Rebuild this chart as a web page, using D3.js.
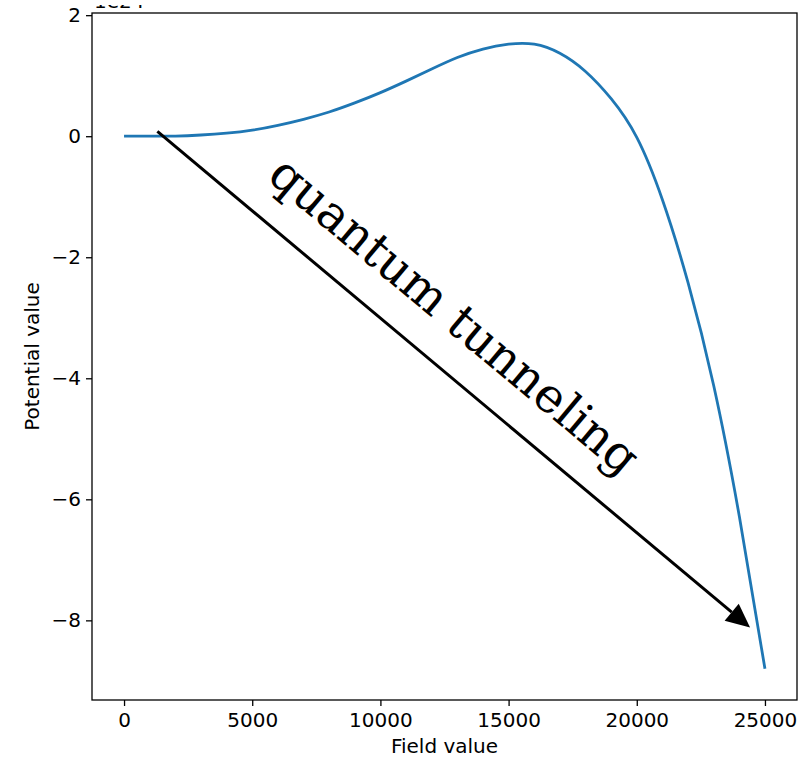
<!DOCTYPE html>
<html>
<head>
<meta charset="utf-8">
<script src="https://cdn.jsdelivr.net/npm/d3@7"></script>
<style>
  body { margin: 0; background: #fff; }
  svg text { font-family: "DejaVu Sans", sans-serif; fill: #000; }
</style>
</head>
<body>
<div id="chart"></div>
<script>
// field values and potential (in units of 1e24)
const fieldValues = [0, 1000, 2000, 3000, 4000, 5000, 6000, 7000, 8000, 9000, 10000,
  11000, 12000, 13000, 14000, 15000, 16000, 17000, 18000, 19000, 20000,
  21000, 22000, 23000, 24000, 25000];
const potentialValues = [0, 0, 0.003, 0.02, 0.05, 0.1, 0.18, 0.28, 0.4, 0.55, 0.72,
  0.91, 1.11, 1.3, 1.44, 1.52, 1.52, 1.37, 1.07, 0.62, -0.02,
  -1.05, -2.42, -4.12, -6.28, -8.8];
const xTicks = [0, 5000, 10000, 15000, 20000, 25000];
const yTicks = [-8, -6, -4, -2, 0, 2];
const arrowFrom = [1300, 0.08];
const arrowTo = [24420, -8.12];
const annotation = "quantum tunneling";

const W = 803, H = 759;
const m = {left: 92, right: 6, top: 13, bottom: 59};

const svg = d3.select("#chart").append("svg")
  .attr("width", W).attr("height", H);

const xMin = d3.min(fieldValues), xMax = d3.max(fieldValues);
const yMin = d3.min(potentialValues), yMax = d3.max(potentialValues);
const xPad = (xMax - xMin) * 0.05, yPad = (yMax - yMin) * 0.05;

const x = d3.scaleLinear().domain([xMin - xPad, xMax + xPad]).range([m.left, W - m.right]);
const y = d3.scaleLinear().domain([yMin - yPad, yMax + yPad]).range([H - m.bottom, m.top]);

const fmt = d => (d < 0 ? "\u2212" + Math.abs(d) : String(d));

// axes
const xAxis = svg.append("g")
  .attr("transform", "translate(0," + (H - m.bottom) + ")")
  .call(d3.axisBottom(x).tickValues(xTicks).tickFormat(fmt).tickSizeOuter(0).tickSize(6));
const yAxis = svg.append("g")
  .attr("transform", "translate(" + m.left + ",0)")
  .call(d3.axisLeft(y).tickValues(yTicks).tickFormat(fmt).tickSizeOuter(0).tickSize(6));

[xAxis, yAxis].forEach(g => {
  g.select(".domain").remove();
  g.selectAll(".tick line").attr("stroke", "#000").attr("stroke-width", 1.3);
  g.selectAll(".tick text").attr("font-size", 20).attr("fill", "#000");
});
xAxis.selectAll(".tick text").attr("y", 27).attr("dy", 0);
yAxis.selectAll(".tick text").attr("x", -11);

// frame
svg.append("rect")
  .attr("x", m.left).attr("y", m.top)
  .attr("width", W - m.left - m.right).attr("height", H - m.top - m.bottom)
  .attr("fill", "none").attr("stroke", "#000").attr("stroke-width", 1.3);

// offset text, only its lowest pixels show at the top edge as in the reference
svg.append("clipPath").attr("id", "offclip")
  .append("rect").attr("x", 0).attr("y", 5).attr("width", 200).attr("height", 6);
svg.append("text")
  .attr("x", m.left + 2).attr("y", 8)
  .attr("font-size", 20)
  .attr("clip-path", "url(#offclip)")
  .text("1e24");

// curve
const line = d3.line()
  .x((d, i) => x(fieldValues[i]))
  .y(d => y(d))
  .curve(d3.curveNatural);
svg.append("path")
  .datum(potentialValues)
  .attr("fill", "none")
  .attr("stroke", "#1f77b4")
  .attr("stroke-width", 2.8)
  .attr("d", line);

// arrow
const x0 = x(arrowFrom[0]), y0 = y(arrowFrom[1]);
const x1 = x(arrowTo[0]), y1 = y(arrowTo[1]);
const ang = Math.atan2(y1 - y0, x1 - x0);
const headLen = 24, headW = 11;
const bx = x1 - headLen * Math.cos(ang), by = y1 - headLen * Math.sin(ang);
svg.append("line")
  .attr("x1", x0).attr("y1", y0).attr("x2", bx).attr("y2", by)
  .attr("stroke", "#000").attr("stroke-width", 3);
svg.append("path")
  .attr("d", d3.line()([
    [x1, y1],
    [bx + headW * Math.sin(ang), by - headW * Math.cos(ang)],
    [bx - headW * Math.sin(ang), by + headW * Math.cos(ang)]
  ]) + "Z")
  .attr("fill", "#000");

// annotation text
const deg = ang * 180 / Math.PI;
svg.append("text")
  .attr("transform", "translate(" + 444 + "," + 328 + ") rotate(" + deg + ")")
  .attr("text-anchor", "middle")
  .style("font-family", "'DejaVu Serif', serif")
  .attr("font-size", 48)
  .text(annotation);

// axis labels
svg.append("text")
  .attr("x", (m.left + W - m.right) / 2).attr("y", 753)
  .attr("text-anchor", "middle").attr("font-size", 20)
  .text("Field value");
svg.append("text")
  .attr("transform", "translate(39," + ((m.top + H - m.bottom) / 2) + ") rotate(-90)")
  .attr("text-anchor", "middle").attr("font-size", 20)
  .text("Potential value");
</script>
</body>
</html>
